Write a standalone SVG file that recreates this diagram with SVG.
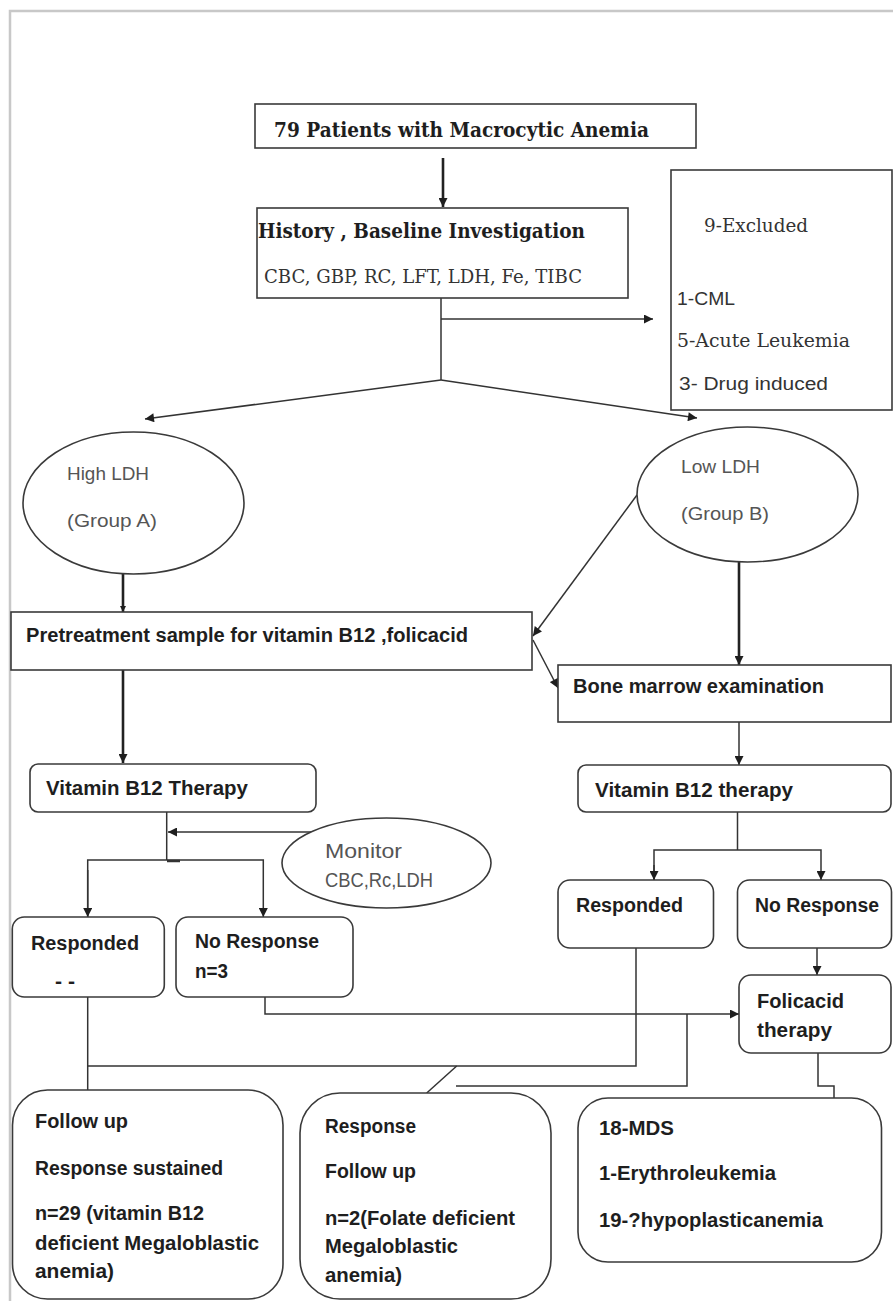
<svg xmlns="http://www.w3.org/2000/svg" width="893" height="1301" viewBox="0 0 893 1301">
<style>
.bg{fill:#fff}
.frame{fill:none;stroke:#c8c8c8;stroke-width:2.5}
.box{fill:#fff;stroke:#3a3a3a;stroke-width:1.6}
.ln{fill:none;stroke:#333;stroke-width:1.5}
.thick{fill:none;stroke:#222;stroke-width:2.6}
.sb{font-family:"Liberation Sans",Arial,sans-serif;font-weight:bold;font-size:20px;fill:#1e1e1e}
.sr{font-family:"Liberation Sans",Arial,sans-serif;font-size:19px;fill:#555}
.serb{font-family:"DejaVu Serif","Liberation Serif",serif;font-weight:bold;font-size:21px;fill:#1e1e1e}
.ser{font-family:"DejaVu Serif","Liberation Serif",serif;font-size:18px;fill:#333}
</style>
<defs>
<marker id="ah" viewBox="0 0 10 10" refX="10" refY="5" markerWidth="10" markerHeight="9" markerUnits="userSpaceOnUse" orient="auto"><path d="M0,0 L10,5 L0,10 z" fill="#1e1e1e"/></marker>
<marker id="ahs" viewBox="0 0 10 10" refX="10" refY="5" markerWidth="6" markerHeight="6" markerUnits="userSpaceOnUse" orient="auto"><path d="M0,0 L10,5 L0,10 z" fill="#1e1e1e"/></marker>
</defs>
<rect class="bg" x="0" y="0" width="893" height="1301"/>
<path class="frame" d="M10,1301 V11 H893"/>

<g id="connectors">
<line class="thick" x1="443" y1="158" x2="443" y2="207" marker-end="url(#ah)"/>
<line class="ln" x1="441" y1="298" x2="441" y2="380"/>
<line class="ln" x1="441" y1="319" x2="653" y2="319" marker-end="url(#ah)"/>
<line class="ln" x1="441" y1="380" x2="145" y2="419" marker-end="url(#ah)"/>
<line class="ln" x1="441" y1="380" x2="697" y2="418" marker-end="url(#ah)"/>
<line class="thick" x1="123" y1="574" x2="123" y2="612" marker-end="url(#ahs)"/>
<line class="ln" x1="637" y1="495" x2="533" y2="636" marker-end="url(#ah)"/>
<line class="ln" x1="533" y1="640" x2="558" y2="688" marker-end="url(#ah)"/>
<line class="thick" x1="739" y1="562" x2="739" y2="665" marker-end="url(#ah)"/>
<line class="thick" x1="123" y1="670" x2="123" y2="763" marker-end="url(#ah)"/>
<line class="ln" x1="739" y1="722" x2="739" y2="765" marker-end="url(#ah)"/>
<line class="ln" x1="166.7" y1="812" x2="166.7" y2="860"/>
<line class="ln" x1="311" y1="832" x2="168" y2="832" marker-end="url(#ah)"/>
<path class="ln" d="M87.7,917 V860 H263.3 V917" marker-end="url(#ah)"/>
<line class="ln" x1="87.7" y1="870" x2="87.7" y2="917" marker-end="url(#ah)"/>
<line class="ln" x1="167" y1="861" x2="180" y2="861" style="stroke-width:2.5"/>
<line class="ln" x1="737.5" y1="812" x2="737.5" y2="850"/>
<path class="ln" d="M654,880 V850 H821 V880" marker-end="url(#ah)"/>
<line class="ln" x1="654" y1="865" x2="654" y2="880" marker-end="url(#ah)"/>
<line class="ln" x1="817" y1="948" x2="817" y2="975" marker-end="url(#ah)"/>
<path class="ln" d="M265,997 V1014 H739" marker-end="url(#ah)"/>
<line class="ln" x1="87.7" y1="997" x2="87.7" y2="1090"/>
<path class="ln" d="M87.7,1066 H636 V948"/>
<line class="ln" x1="456.7" y1="1066" x2="426.7" y2="1093"/>
<path class="ln" d="M687,1014 V1086 H456"/>
<path class="ln" d="M818,1053 V1086 H834 V1098"/>
</g>

<g id="n-start">
<rect class="box" x="255" y="104" width="441" height="44"/>
<text class="serb" x="274" y="137" textLength="375" lengthAdjust="spacingAndGlyphs">79 Patients with Macrocytic Anemia</text>
</g>
<g id="n-history">
<rect class="box" x="257" y="208" width="371" height="90"/>
<text class="serb" x="258" y="238" textLength="327" lengthAdjust="spacingAndGlyphs">History , Baseline Investigation</text>
<text class="ser" x="264" y="283" textLength="318" lengthAdjust="spacingAndGlyphs" style="font-size:19px">CBC, GBP, RC, LFT, LDH, Fe, TIBC</text>
</g>
<g id="n-excluded">
<rect class="box" x="671" y="170" width="221" height="240"/>
<text class="ser" x="704" y="232" textLength="104" lengthAdjust="spacingAndGlyphs">9-Excluded</text>
<text class="sr" x="677" y="305" textLength="58" lengthAdjust="spacingAndGlyphs" style="fill:#333;font-size:18px">1-CML</text>
<text class="ser" x="677" y="347" textLength="173" lengthAdjust="spacingAndGlyphs">5-Acute Leukemia</text>
<text class="sr" x="679" y="390" textLength="149" lengthAdjust="spacingAndGlyphs" style="fill:#333;font-size:18px">3- Drug induced</text>
</g>
<g id="n-groupA">
<ellipse class="box" cx="133.5" cy="503" rx="110.5" ry="71"/>
<text class="sr" x="67" y="480" textLength="82" lengthAdjust="spacingAndGlyphs">High LDH</text>
<text class="sr" x="67" y="527" textLength="90" lengthAdjust="spacingAndGlyphs">(Group A)</text>
</g>
<g id="n-groupB">
<ellipse class="box" cx="747.5" cy="494.5" rx="110.5" ry="67.5"/>
<text class="sr" x="681" y="473" textLength="79" lengthAdjust="spacingAndGlyphs">Low LDH</text>
<text class="sr" x="681" y="520" textLength="88" lengthAdjust="spacingAndGlyphs">(Group B)</text>
</g>
<g id="n-pretreatment">
<rect class="box" x="11" y="612" width="521" height="58"/>
<text class="sb" x="26" y="642" textLength="442" lengthAdjust="spacingAndGlyphs">Pretreatment sample for vitamin B12 ,folicacid</text>
</g>
<g id="n-bonemarrow">
<rect class="box" x="558" y="665" width="333" height="57"/>
<text class="sb" x="573" y="693" textLength="251" lengthAdjust="spacingAndGlyphs">Bone marrow examination</text>
</g>
<g id="n-therapyA">
<rect class="box" x="30" y="764" width="286" height="48" rx="8"/>
<text class="sb" x="46" y="795" textLength="202" lengthAdjust="spacingAndGlyphs">Vitamin  B12 Therapy</text>
</g>
<g id="n-therapyB">
<rect class="box" x="578" y="765" width="313" height="47" rx="8"/>
<text class="sb" x="595" y="797" textLength="198" lengthAdjust="spacingAndGlyphs">Vitamin  B12 therapy</text>
</g>
<g id="n-monitor">
<ellipse class="box" cx="386.5" cy="863" rx="104.5" ry="45"/>
<text class="sr" x="325" y="858" textLength="77" lengthAdjust="spacingAndGlyphs" style="font-size:21px">Monitor</text>
<text class="sr" x="325" y="887" textLength="108" lengthAdjust="spacingAndGlyphs" style="font-size:21px">CBC,Rc,LDH</text>
</g>
<g id="n-respondedA">
<rect class="box" x="12.3" y="917" width="152" height="80" rx="12"/>
<text class="sb" x="31" y="950" textLength="108" lengthAdjust="spacingAndGlyphs">Responded</text>
<text class="sb" x="55" y="988" textLength="20" lengthAdjust="spacingAndGlyphs">- -</text>
</g>
<g id="n-noresponseA">
<rect class="box" x="176" y="917" width="177" height="80" rx="12"/>
<text class="sb" x="195" y="948" textLength="124" lengthAdjust="spacingAndGlyphs">No Response</text>
<text class="sb" x="195" y="978" textLength="33" lengthAdjust="spacingAndGlyphs">n=3</text>
</g>
<g id="n-respondedB">
<rect class="box" x="558" y="880" width="155.5" height="68" rx="12"/>
<text class="sb" x="576" y="912" textLength="107" lengthAdjust="spacingAndGlyphs">Responded</text>
</g>
<g id="n-noresponseB">
<rect class="box" x="737.5" y="880" width="154" height="68" rx="12"/>
<text class="sb" x="755" y="912" textLength="124" lengthAdjust="spacingAndGlyphs">No Response</text>
</g>
<g id="n-folic">
<rect class="box" x="739" y="975" width="152" height="78" rx="12"/>
<text class="sb" x="757" y="1008" textLength="87" lengthAdjust="spacingAndGlyphs">Folicacid</text>
<text class="sb" x="757" y="1037" textLength="75" lengthAdjust="spacingAndGlyphs">therapy</text>
</g>
<g id="n-followupA">
<rect class="box" x="12.5" y="1090" width="270.5" height="209" rx="35"/>
<text class="sb" x="35" y="1128" textLength="93" lengthAdjust="spacingAndGlyphs">Follow up</text>
<text class="sb" x="35" y="1175" textLength="188" lengthAdjust="spacingAndGlyphs">Response sustained</text>
<text class="sb" x="35" y="1220" textLength="169" lengthAdjust="spacingAndGlyphs">n=29  (vitamin B12</text>
<text class="sb" x="35" y="1250" textLength="224" lengthAdjust="spacingAndGlyphs">deficient Megaloblastic</text>
<text class="sb" x="35" y="1278" textLength="79" lengthAdjust="spacingAndGlyphs">anemia)</text>
</g>
<g id="n-followupB">
<rect class="box" x="300" y="1093" width="251" height="206" rx="40"/>
<text class="sb" x="325" y="1133" textLength="91" lengthAdjust="spacingAndGlyphs">Response</text>
<text class="sb" x="325" y="1178" textLength="91" lengthAdjust="spacingAndGlyphs">Follow up</text>
<text class="sb" x="325" y="1225" textLength="190" lengthAdjust="spacingAndGlyphs">n=2(Folate deficient</text>
<text class="sb" x="325" y="1253" textLength="133" lengthAdjust="spacingAndGlyphs">Megaloblastic</text>
<text class="sb" x="325" y="1282" textLength="77" lengthAdjust="spacingAndGlyphs">anemia)</text>
</g>
<g id="n-outcomes">
<rect class="box" x="578" y="1098" width="303.5" height="164" rx="30"/>
<text class="sb" x="599" y="1135" textLength="75" lengthAdjust="spacingAndGlyphs">18-MDS</text>
<text class="sb" x="599" y="1180" textLength="177" lengthAdjust="spacingAndGlyphs">1-Erythroleukemia</text>
<text class="sb" x="599" y="1227" textLength="224" lengthAdjust="spacingAndGlyphs">19-?hypoplasticanemia</text>
</g>
</svg>
